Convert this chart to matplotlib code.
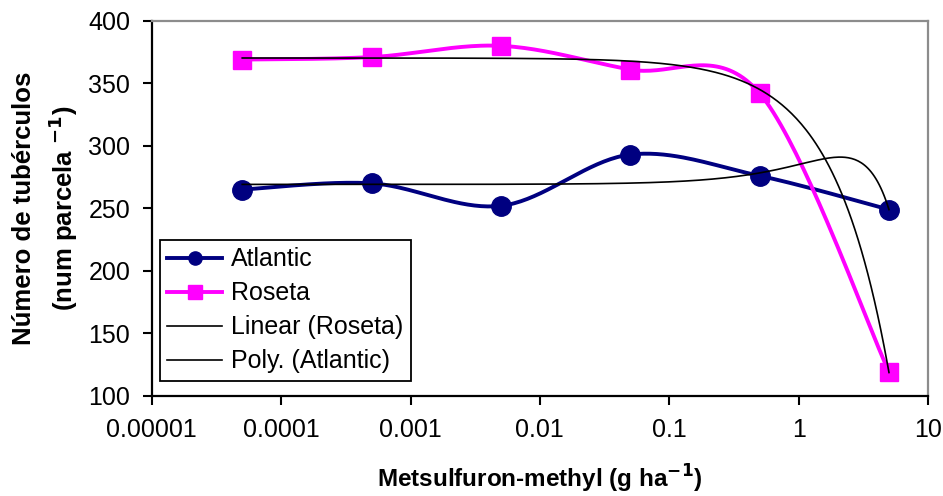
import numpy as np
import matplotlib
matplotlib.use("Agg")
import matplotlib.pyplot as plt
from matplotlib.ticker import FixedLocator, FixedFormatter, NullLocator

plt.rcParams['font.family'] = ['Liberation Sans', 'DejaVu Sans']

dose = [0.00005, 0.0005, 0.005, 0.05, 0.5, 5]
atlantic = [265, 270, 252, 293, 276, 249]
roseta = [369, 371, 380, 361, 342, 119]

xticks = [0.00001, 0.0001, 0.001, 0.01, 0.1, 1, 10]
xticklabels = ['0.00001', '0.0001', '0.001', '0.01', '0.1', '1', '10']
yticks = [100, 150, 200, 250, 300, 350, 400]


def smooth(x, y, n=40):
    # Excel-style smoothed line: Catmull-Rom bezier in (log x, y)
    u = np.log10(np.asarray(x, float))
    v = np.asarray(y, float)
    pts = np.column_stack([u, v])
    ext = np.vstack([pts[0], pts, pts[-1]])
    out = []
    t = np.linspace(0, 1, n)[:, None]
    for i in range(len(pts) - 1):
        p0, p1, p2, p3 = ext[i], ext[i + 1], ext[i + 2], ext[i + 3]
        c1 = p1 + (p2 - p0) / 6
        c2 = p2 - (p3 - p1) / 6
        seg = ((1 - t) ** 3 * p1 + 3 * (1 - t) ** 2 * t * c1
               + 3 * (1 - t) * t ** 2 * c2 + t ** 3 * p2)
        out.append(seg if i == 0 else seg[1:])
    out = np.vstack(out)
    return 10 ** out[:, 0], out[:, 1]


fig, ax = plt.subplots(figsize=(9.43, 4.96), dpi=100)
fig.subplots_adjust(left=0.161, right=0.984, top=0.958, bottom=0.202)

navy = '#000080'
pink = '#FF00FF'

sx, sy = smooth(dose, atlantic)
ax.plot(sx, sy, color=navy, lw=2.8, zorder=3)
ax.plot(dose, atlantic, 'o', color=navy, ms=14, zorder=4)
ax.plot([], [], '-o', color=navy, lw=2.8, ms=9.5, label='Atlantic')

sx, sy = smooth(dose, roseta)
ax.plot(sx, sy, color=pink, lw=2.8, zorder=3)
ax.plot(dose, roseta, 's', color=pink, ms=13.5, zorder=4)
ax.plot([], [], '-s', color=pink, lw=2.8, ms=9.5, label='Roseta')

# trendlines fitted on linear x, drawn on the log axis
xt = np.logspace(np.log10(dose[0]), np.log10(dose[-1]), 400)
lin = np.polyfit(dose, roseta, 1)
ax.plot(xt, np.polyval(lin, xt), color='black', lw=1.2, zorder=5,
        label='Linear (Roseta)')
poly = np.polyfit(dose, atlantic, 2)
ax.plot(xt, np.polyval(poly, xt), color='black', lw=1.2, zorder=5,
        label='Poly. (Atlantic)')

ax.set_xscale('log')
ax.set_xlim(0.00001, 10)
ax.set_ylim(100, 400)
ax.xaxis.set_major_locator(FixedLocator(xticks))
ax.xaxis.set_major_formatter(FixedFormatter(xticklabels))
ax.xaxis.set_minor_locator(NullLocator())
ax.set_yticks(yticks)
ax.tick_params(axis='both', labelsize=18, direction='out', length=6.5,
               width=1.5, color='black')
ax.tick_params(axis='x', pad=9.5)
ax.tick_params(axis='y', pad=9)

for s in ['left', 'bottom']:
    ax.spines[s].set_color('black')
    ax.spines[s].set_linewidth(1.6)
for s in ['top', 'right']:
    ax.spines[s].set_color('#8c8c8c')
    ax.spines[s].set_linewidth(1.6)

ax.set_xlabel('Metsulfuron-methyl (g ha$^{\\mathbf{-1}}$)', fontsize=17.5,
              fontweight='bold', labelpad=15)
ax.set_ylabel('Número de tubérculos\n(num parcela $^{\\mathbf{-1}}$)',
              fontsize=18.5, fontweight='bold', labelpad=6, linespacing=1.4)

leg = ax.legend(loc='lower left', bbox_to_anchor=(0.01, 0.04), fontsize=18,
                frameon=True, fancybox=False, edgecolor='black', framealpha=1,
                handlelength=2.2, borderpad=0.3, labelspacing=0.4,
                handletextpad=0.35, borderaxespad=0)
leg.get_frame().set_linewidth(1.3)

fig.savefig('out.png', dpi=100)
